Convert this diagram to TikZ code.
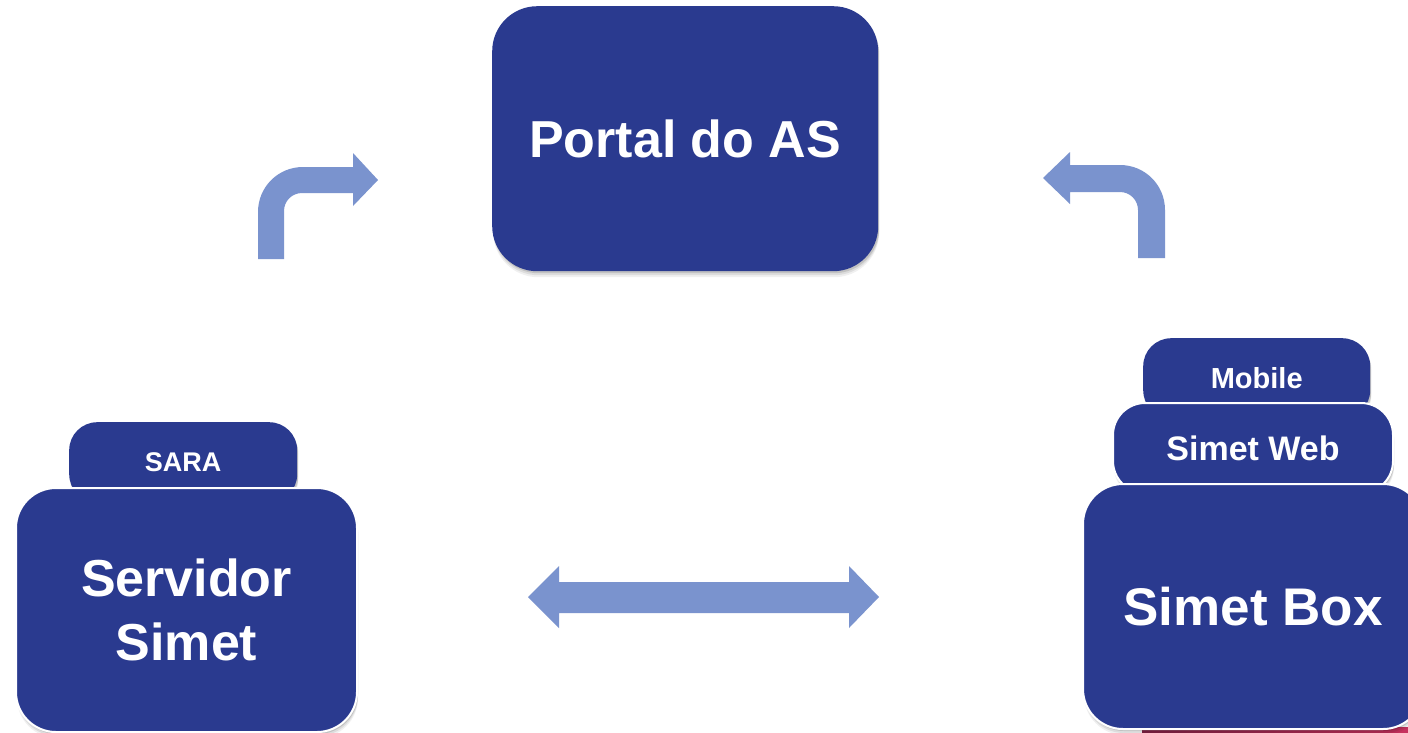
\documentclass[tikz,border=0pt]{standalone}
\usepackage{fontspec}
\setmainfont{Liberation Sans}
\usetikzlibrary{shadows}
\definecolor{boxblue}{RGB}{42,58,143}
\definecolor{arrowblue}{RGB}{122,147,206}
\definecolor{maroonA}{RGB}{130,35,70}
\definecolor{maroonB}{RGB}{200,50,95}
\tikzset{
  softshadow/.style={
    general shadow={shadow xshift=1pt, shadow yshift=-6pt, opacity=0.06, fill=black},
    general shadow={shadow xshift=1pt, shadow yshift=-4pt, opacity=0.08, fill=black},
    general shadow={shadow xshift=1pt, shadow yshift=-2pt, opacity=0.12, fill=black}},
  bluebox/.style={fill=boxblue, text=white, font=\bfseries, inner sep=0pt, anchor=north west, align=center, softshadow},
  whiteline/.style={draw=white, line width=2pt},
  blockarrow/.style={fill=arrowblue},
}
\begin{document}
\begin{tikzpicture}[x=1pt,y=-1pt]
\clip (0,0) rectangle (1408,732);
\fill[white] (0,0) rectangle (1408,732);
% bottom strip
\shade[left color=maroonA, right color=maroonB] (1142,727) rectangle (1408,732);

% Portal
\node[bluebox, minimum width=386pt, minimum height=265pt, rounded corners=45pt,
  font=\bfseries\fontsize{52}{62}\selectfont] (portal) at (492,6) {Portal do AS};

% Servidor Simet
\node[bluebox, minimum width=228pt, minimum height=80pt, rounded corners=28pt,
  font=\bfseries\fontsize{27}{32}\selectfont] (sara) at (69,422) {SARA};
\node[bluebox, whiteline, minimum width=341pt, minimum height=244pt, rounded corners=40pt,
  font=\bfseries\fontsize{52}{64}\selectfont] (servidor) at (15,487) {Servidor\\Simet};

% Simet stack
\node[bluebox, minimum width=227pt, minimum height=80pt, rounded corners=28pt,
  font=\bfseries\fontsize{29}{34}\selectfont] (mobile) at (1143,338) {Mobile};
\node[bluebox, whiteline, minimum width=280pt, minimum height=90pt, rounded corners=32pt,
  font=\bfseries\fontsize{34}{40}\selectfont] (web) at (1112,402) {Simet Web};
\node[bluebox, whiteline, minimum width=340pt, minimum height=245pt, rounded corners=40pt,
  font=\bfseries\fontsize{53}{64}\selectfont] (simetbox) at (1082,483) {Simet Box};

% bent arrow left
\fill[blockarrow] (258,259) -- (258,212) .. controls (258,187) and (278,167) .. (303,167)
  -- (353,167) -- (353,153) -- (378,180) -- (353,206) -- (353,193) -- (302,193)
  .. controls (292,193) and (284,201) .. (284,211) -- (284,259) -- cycle;
% bent arrow right
\fill[blockarrow] (1165,258) -- (1165,210) .. controls (1165,185) and (1145,165) .. (1120,165)
  -- (1070,165) -- (1070,152) -- (1043,178) -- (1070,204) -- (1070,192) -- (1120,192)
  .. controls (1130,192) and (1138,200) .. (1138,210) -- (1138,258) -- cycle;
% double arrow
\fill[blockarrow] (528,597) -- (559,566) -- (559,582) -- (849,582) -- (849,566) -- (879,597)
  -- (849,628) -- (849,613) -- (559,613) -- (559,628) -- cycle;
\end{tikzpicture}
\end{document}
